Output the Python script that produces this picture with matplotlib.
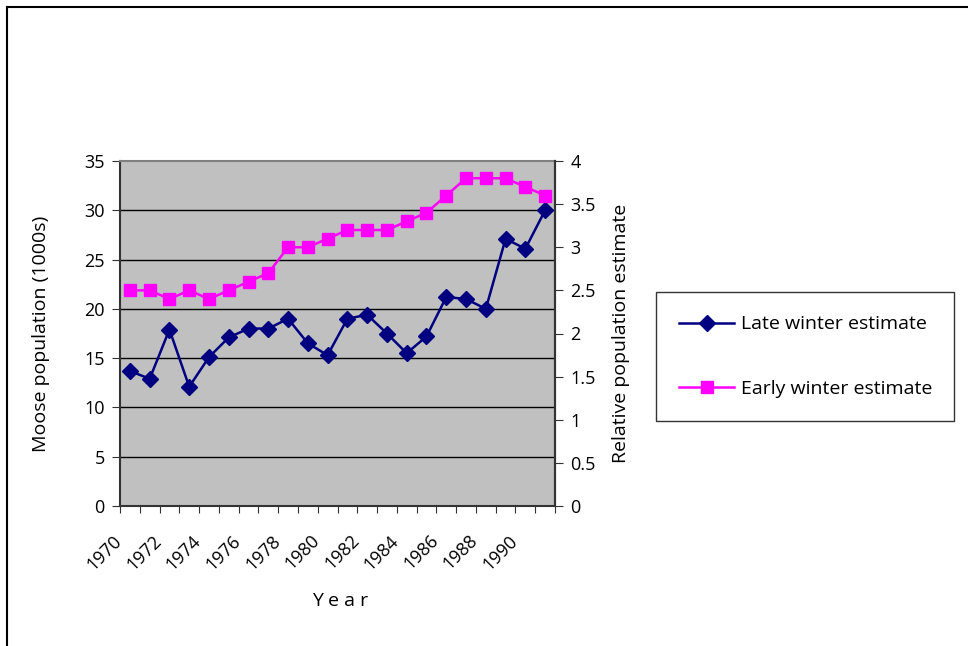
import matplotlib
matplotlib.use("Agg")
import matplotlib.pyplot as plt
import matplotlib.transforms as mtransforms
from matplotlib.lines import Line2D
import numpy as np

plt.rcParams['font.family'] = ['Open Sans', 'DejaVu Sans']

years = list(range(1970, 1992))
late_winter = [13.7, 12.9, 17.9, 12.1, 15.1, 17.1, 18.0, 18.0, 19.0, 16.5, 15.3,
               19.0, 19.4, 17.5, 15.5, 17.2, 21.2, 21.0, 20.0, 27.1, 26.1, 30.0]
early_winter = [2.5, 2.5, 2.4, 2.5, 2.4, 2.5, 2.6, 2.7, 3.0, 3.0, 3.1,
                3.2, 3.2, 3.2, 3.3, 3.4, 3.6, 3.8, 3.8, 3.8, 3.7, 3.6]
left_ticks = [0, 5, 10, 15, 20, 25, 30, 35]
right_ticks = [0, 0.5, 1, 1.5, 2, 2.5, 3, 3.5, 4]
right_labels = ["0", "0.5", "1", "1.5", "2", "2.5", "3", "3.5", "4"]

W, H = 968, 646
fig = plt.figure(figsize=(W / 100, H / 100), dpi=100)

# outer chart border
fig.add_artist(Line2D([7 / W, 7 / W], [0, 1 - 7 / H], color='black', lw=1.5, transform=fig.transFigure))
fig.add_artist(Line2D([7 / W, 1], [1 - 7 / H, 1 - 7 / H], color='black', lw=1.5, transform=fig.transFigure))

left, right, top, bottom = 120, 555, 161, 506
aw, ah = right - left, bottom - top
ax = fig.add_axes([left / W, 1 - bottom / H, aw / W, ah / H])
ax.set_facecolor('#c0c0c0')

n = len(years)
x = np.arange(n)
ax.set_xlim(-0.5, n - 0.5)
ax.set_ylim(0, 35)

for g in left_ticks[1:-1]:
    ax.axhline(g, color='black', lw=1, zorder=1)

ax.plot(x, late_winter, color='#000080', lw=1.8, marker='D', markersize=8,
        markerfacecolor='#000080', markeredgecolor='#000080', zorder=3,
        label='Late winter estimate')

ax.set_yticks(left_ticks)
ax.set_yticklabels([str(t) for t in left_ticks], fontsize=13)
ax.set_xticks(np.arange(-0.5, n, 1.0))
ax.set_xticklabels([])
ax.set_xticks(x[::2], minor=True)
ax.set_xticklabels([str(y) for y in years[::2]], minor=True, rotation=45,
                   ha='right', va='top', fontsize=13, rotation_mode='anchor')
ax.tick_params(axis='x', which='major', length=5, direction='out', color='#333333')
ax.tick_params(axis='x', which='minor', length=0, pad=12)
ax.tick_params(axis='y', length=6, direction='out', color='#333333', pad=5)
offset = mtransforms.ScaledTranslation(-17 / 100, -9 / 100, fig.dpi_scale_trans)
for lbl in ax.xaxis.get_minorticklabels():
    lbl.set_transform(lbl.get_transform() + offset)

for s in ['left', 'bottom', 'right']:
    ax.spines[s].set_color('#333333')
    ax.spines[s].set_linewidth(1.5)
ax.spines['top'].set_color('#808080')
ax.spines['top'].set_linewidth(1.5)

ax.set_ylabel('Moose population (1000s)', fontsize=14)
ax.yaxis.set_label_coords((50 - left) / aw, 0.5)
ax.set_xlabel('Y e a r', fontsize=14)
ax.xaxis.set_label_coords((340 - left) / aw, (bottom - 592) / ah)

ax2 = ax.twinx()
ax2.set_ylim(0, 4)
ax2.plot(x, early_winter, color='#ff00ff', lw=1.8, marker='s', markersize=8,
         markerfacecolor='#ff00ff', markeredgecolor='#ff00ff', zorder=3,
         label='Early winter estimate')
ax2.set_yticks(right_ticks)
ax2.set_yticklabels(right_labels, fontsize=13)
ax2.tick_params(axis='y', length=6, direction='out', color='#333333', pad=5)
ax2.set_ylabel('Relative population estimate', fontsize=14)
ax2.yaxis.set_label_coords((612 - left) / aw, 0.5)
for s in ax2.spines.values():
    s.set_visible(False)
ax2.spines['right'].set_visible(True)
ax2.spines['right'].set_color('#333333')
ax2.spines['right'].set_linewidth(1.5)

# legend
h1 = Line2D([], [], color='#000080', lw=1.8, marker='D', markersize=8)
h2 = Line2D([], [], color='#ff00ff', lw=1.8, marker='s', markersize=8)
lx0, ly0, lx1, ly1 = 656, 292, 954, 422
leg = fig.legend([h1, h2], ['Late winter estimate', 'Early winter estimate'],
                 loc='upper left',
                 bbox_to_anchor=(lx0 / W, 1 - ly1 / H, (lx1 - lx0) / W, (ly1 - ly0) / H),
                 bbox_transform=fig.transFigure, mode='expand', fontsize=14,
                 frameon=True, fancybox=False, edgecolor='black',
                 handlelength=2.8, labelspacing=2.4, borderpad=1.2,
                 handletextpad=0.35, borderaxespad=0)
leg.get_frame().set_linewidth(1.0)

fig.savefig('out.png', dpi=100)
